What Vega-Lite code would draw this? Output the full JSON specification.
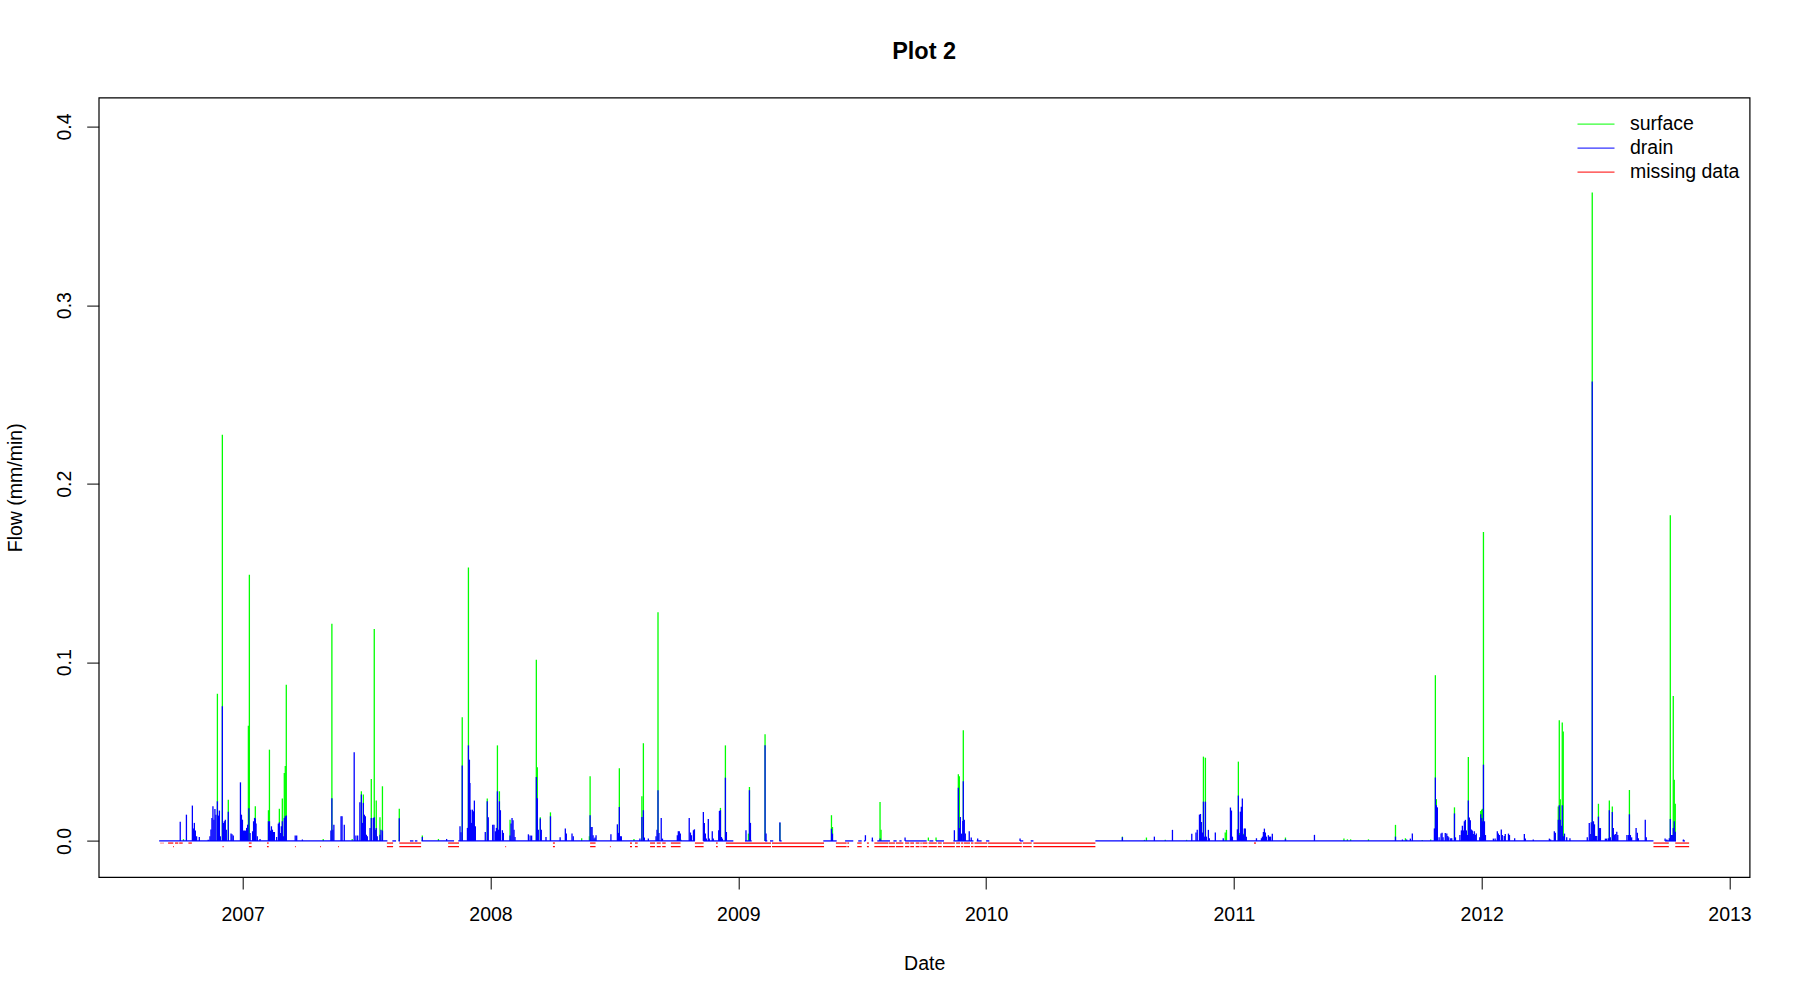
{
  "$schema": "https://vega.github.io/schema/vega-lite/v6.json",
  "width": 1650.9,
  "height": 779.4,
  "autosize": {"type": "none"},
  "padding": {"left": 98.7, "top": 97.6, "right": 50.4, "bottom": 123},
  "background": "white",
  "title": {"text": "Plot 2", "font": "Liberation Sans", "fontSize": 23.5, "fontWeight": "bold", "color": "black", "anchor": "middle", "baseline": "alphabetic", "offset": 15.6},
  "config": {
    "view": {"stroke": "black", "strokeWidth": 1.2},
    "axis": {"grid": false, "domain": false, "tickColor": "black", "tickSize": 12, "tickWidth": 1, "labelFont": "Liberation Sans", "labelFontSize": 19.5, "labelColor": "black", "titleFont": "Liberation Sans", "titleFontSize": 19.5, "titleFontWeight": "normal", "titleColor": "black", "labelFlush": false, "labelOverlap": false}
  },
  "datasets": {
    "flow": [
      {"year":2006.748,"drain":0.0108},{"year":2006.761,"surface":0.001},{"year":2006.773,"drain":0.0147},{"year":2006.797,"drain":0.0198},{"year":2006.801,"drain":0.007},{"year":2006.805,"drain":0.0101},{"year":2006.809,"drain":0.0058},{"year":2006.814,"drain":0.0026},{"year":2006.825,"drain":0.0022},
      {"year":2006.861,"drain":0.0007},{"year":2006.868,"drain":0.0026},{"year":2006.872,"drain":0.0064},{"year":2006.876,"drain":0.0129},{"year":2006.880,"drain":0.0194},{"year":2006.884,"drain":0.0119},{"year":2006.888,"drain":0.0179},{"year":2006.892,"drain":0.0147},{"year":2006.898,"surface":0.0824,"drain":0.0222},{"year":2006.902,"drain":0.0142},{"year":2006.906,"drain":0.017},{"year":2006.910,"drain":0.0026},
      {"year":2006.918,"surface":0.2274,"drain":0.0754},{"year":2006.922,"drain":0.0101},{"year":2006.926,"drain":0.011},{"year":2006.930,"drain":0.0119},{"year":2006.934,"drain":0.0063},{"year":2006.942,"surface":0.0231,"drain":0.0164},{"year":2006.953,"drain":0.0041},{"year":2006.957,"drain":0.0037},{"year":2006.962,"drain":0.003},
      {"year":2006.991,"drain":0.0328},{"year":2006.995,"drain":0.0147},{"year":2006.999,"drain":0.0119},{"year":2007.003,"drain":0.0058},{"year":2007.007,"drain":0.0058},{"year":2007.011,"drain":0.0058},{"year":2007.016,"drain":0.0073},{"year":2007.020,"drain":0.0091},{"year":2007.023,"surface":0.0645},{"year":2007.025,"drain":0.0183},{"year":2007.027,"surface":0.149},
      {"year":2007.030,"drain":0.0045},{"year":2007.040,"drain":0.0054},{"year":2007.044,"drain":0.011},{"year":2007.048,"drain":0.0129},{"year":2007.051,"surface":0.0194,"drain":0.0125},{"year":2007.054,"drain":0.0097},{"year":2007.059,"drain":0.0026},{"year":2007.070,"drain":0.0011},
      {"year":2007.104,"surface":0.0172,"drain":0.011},{"year":2007.108,"surface":0.0511,"drain":0.011},{"year":2007.112,"drain":0.0058},{"year":2007.116,"drain":0.0082},{"year":2007.120,"drain":0.0063},{"year":2007.124,"drain":0.005},{"year":2007.128,"drain":0.005},{"year":2007.137,"drain":0.0022},
      {"year":2007.144,"drain":0.0097},{"year":2007.148,"surface":0.018,"drain":0.0104},{"year":2007.152,"drain":0.0045},{"year":2007.156,"drain":0.0082},{"year":2007.160,"surface":0.0237,"drain":0.011},{"year":2007.164,"drain":0.0026},{"year":2007.168,"surface":0.038,"drain":0.0129},{"year":2007.172,"surface":0.042,"drain":0.0138},{"year":2007.176,"surface":0.0875,"drain":0.0142},
      {"year":2007.212,"drain":0.003},{"year":2007.218,"drain":0.003},{"year":2007.241,"drain":0.0008},{"year":2007.325,"surface":0.0011},
      {"year":2007.356,"drain":0.0058},{"year":2007.360,"surface":0.1216,"drain":0.0239},{"year":2007.364,"drain":0.0063},{"year":2007.368,"drain":0.0091},{"year":2007.397,"drain":0.0138},{"year":2007.401,"drain":0.0138},{"year":2007.410,"drain":0.0091},
      {"year":2007.442,"surface":0.0011},{"year":2007.450,"drain":0.0496},{"year":2007.457,"drain":0.003},{"year":2007.464,"drain":0.003},{"year":2007.473,"drain":0.0216},{"year":2007.479,"surface":0.0278,"drain":0.026},{"year":2007.483,"drain":0.0101},{"year":2007.487,"surface":0.026,"drain":0.0213},{"year":2007.491,"drain":0.0147},{"year":2007.495,"drain":0.0138},{"year":2007.499,"drain":0.0035},{"year":2007.503,"drain":0.0026},
      {"year":2007.514,"drain":0.0073},{"year":2007.519,"surface":0.0347,"drain":0.0129},{"year":2007.527,"drain":0.0129},{"year":2007.531,"surface":0.1186,"drain":0.0132},{"year":2007.535,"drain":0.0063},{"year":2007.539,"surface":0.0226,"drain":0.0073},{"year":2007.543,"drain":0.0026},{"year":2007.554,"surface":0.0132,"drain":0.0035},{"year":2007.558,"drain":0.0063},{"year":2007.564,"surface":0.0306,"drain":0.0058},
      {"year":2007.632,"surface":0.018,"drain":0.0127},{"year":2007.725,"surface":0.003,"drain":0.0022},{"year":2007.790,"surface":0.0011},{"year":2007.823,"drain":0.0011},
      {"year":2007.877,"drain":0.0082},{"year":2007.881,"drain":0.0048},{"year":2007.886,"surface":0.0692,"drain":0.0423},{"year":2007.907,"drain":0.0073},{"year":2007.911,"surface":0.1531,"drain":0.0535},{"year":2007.915,"drain":0.0455},{"year":2007.917,"drain":0.0325},{"year":2007.920,"drain":0.0175},{"year":2007.923,"drain":0.0101},{"year":2007.927,"drain":0.0175},{"year":2007.931,"surface":0.0058,"drain":0.0166},{"year":2007.935,"drain":0.0226},{"year":2007.939,"drain":0.0082},
      {"year":2007.979,"drain":0.005},{"year":2007.987,"surface":0.0237,"drain":0.0222},{"year":2007.991,"drain":0.0132},{"year":2008.009,"drain":0.0091},{"year":2008.014,"drain":0.0091},{"year":2008.020,"drain":0.0054},{"year":2008.024,"drain":0.0073},{"year":2008.028,"surface":0.0535,"drain":0.0278},{"year":2008.032,"drain":0.0063},{"year":2008.036,"surface":0.0278,"drain":0.0222},{"year":2008.040,"drain":0.0172},{"year":2008.048,"drain":0.006},{"year":2008.052,"drain":0.0045},
      {"year":2008.079,"surface":0.0119,"drain":0.003},{"year":2008.083,"drain":0.0097},{"year":2008.087,"drain":0.0129},{"year":2008.091,"drain":0.0116},{"year":2008.095,"drain":0.0063},{"year":2008.099,"drain":0.0022},{"year":2008.153,"drain":0.0037},{"year":2008.160,"drain":0.003},{"year":2008.166,"drain":0.003},
      {"year":2008.185,"surface":0.1015,"drain":0.0358},{"year":2008.189,"surface":0.0412,"drain":0.0239},{"year":2008.193,"drain":0.0063},{"year":2008.201,"surface":0.0132,"drain":0.0125},{"year":2008.205,"drain":0.0063},{"year":2008.224,"drain":0.0022},{"year":2008.242,"surface":0.016,"drain":0.0138},
      {"year":2008.281,"drain":0.002},{"year":2008.302,"drain":0.0069},{"year":2008.306,"drain":0.0041},{"year":2008.329,"drain":0.0041},{"year":2008.334,"drain":0.0026},{"year":2008.368,"surface":0.0015},{"year":2008.399,"surface":0.0026},
      {"year":2008.402,"surface":0.0362,"drain":0.0144},{"year":2008.406,"drain":0.0078},{"year":2008.410,"drain":0.0078},{"year":2008.414,"drain":0.0032},{"year":2008.418,"drain":0.0013},{"year":2008.422,"drain":0.0019},{"year":2008.426,"drain":0.0032},{"year":2008.486,"drain":0.0037},
      {"year":2008.512,"drain":0.0093},{"year":2008.516,"drain":0.0045},{"year":2008.520,"surface":0.0407,"drain":0.019},{"year":2008.524,"drain":0.0026},{"year":2008.528,"drain":0.0026},{"year":2008.579,"surface":0.0011},
      {"year":2008.603,"drain":0.0013},{"year":2008.611,"surface":0.025,"drain":0.0134},{"year":2008.617,"surface":0.0547,"drain":0.0172},{"year":2008.621,"drain":0.0019},{"year":2008.637,"drain":0.0013},
      {"year":2008.668,"drain":0.0026},{"year":2008.672,"drain":0.0063},{"year":2008.676,"surface":0.128,"drain":0.0284},{"year":2008.680,"drain":0.0045},{"year":2008.689,"drain":0.0129},{"year":2008.694,"drain":0.0013},
      {"year":2008.754,"drain":0.0032},{"year":2008.758,"drain":0.0054},{"year":2008.762,"drain":0.0054},{"year":2008.766,"drain":0.0041},{"year":2008.769,"surface":0.0007},
      {"year":2008.802,"drain":0.0129},{"year":2008.807,"drain":0.0047},{"year":2008.811,"drain":0.0032},{"year":2008.819,"drain":0.006},{"year":2008.823,"drain":0.0065},
      {"year":2008.859,"drain":0.0162},{"year":2008.863,"drain":0.0101},{"year":2008.867,"drain":0.0041},{"year":2008.871,"drain":0.0013},{"year":2008.879,"drain":0.0123},{"year":2008.883,"drain":0.0013},{"year":2008.895,"drain":0.0054},{"year":2008.899,"drain":0.0013},
      {"year":2008.921,"drain":0.006},{"year":2008.924,"drain":0.0168},{"year":2008.928,"surface":0.0185,"drain":0.0172},{"year":2008.932,"drain":0.0022},{"year":2008.936,"drain":0.0013},{"year":2008.948,"surface":0.0535,"drain":0.0354},{"year":2008.952,"drain":0.005},
      {"year":2009.031,"drain":0.006},{"year":2009.041,"surface":0.0041},{"year":2009.045,"surface":0.0302,"drain":0.0284},{"year":2009.049,"drain":0.0101},{"year":2009.108,"surface":0.0597,"drain":0.0535},{"year":2009.112,"drain":0.0041},{"year":2009.168,"surface":0.0101,"drain":0.0104},
      {"year":2009.376,"surface":0.0144,"drain":0.0069},{"year":2009.380,"surface":0.0078,"drain":0.0041},{"year":2009.513,"drain":0.0032},{"year":2009.541,"drain":0.0019},{"year":2009.572,"surface":0.0218,"drain":0.0013},{"year":2009.576,"surface":0.0063},{"year":2009.673,"drain":0.0019},{"year":2009.767,"surface":0.0019},{"year":2009.798,"surface":0.0019},
      {"year":2009.872,"drain":0.006},{"year":2009.888,"surface":0.0373,"drain":0.0298},{"year":2009.892,"surface":0.0362,"drain":0.0073},{"year":2009.896,"drain":0.0134},{"year":2009.901,"drain":0.0041},{"year":2009.906,"drain":0.0112},{"year":2009.908,"surface":0.0619,"drain":0.0334},{"year":2009.912,"drain":0.0119},{"year":2009.916,"drain":0.0041},{"year":2009.932,"drain":0.0054},{"year":2009.940,"drain":0.0019},{"year":2009.966,"drain":0.0013},{"year":2010.137,"drain":0.0013},
      {"year":2010.550,"surface":0.0024,"drain":0.0021},{"year":2010.639,"surface":0.0006},{"year":2010.647,"surface":0.0019},{"year":2010.679,"drain":0.0024},{"year":2010.723,"surface":0.0006},{"year":2010.752,"drain":0.0062},{"year":2010.809,"surface":0.0006},
      {"year":2010.830,"drain":0.004},{"year":2010.847,"drain":0.0047},{"year":2010.852,"drain":0.0062},{"year":2010.861,"drain":0.0147},{"year":2010.865,"drain":0.0151},{"year":2010.869,"drain":0.0106},{"year":2010.873,"surface":0.0045,"drain":0.0047},{"year":2010.877,"surface":0.0472,"drain":0.022},{"year":2010.881,"drain":0.0024},{"year":2010.885,"surface":0.0466,"drain":0.022},{"year":2010.889,"drain":0.0024},{"year":2010.897,"drain":0.0062},{"year":2010.901,"drain":0.0015},
      {"year":2010.925,"drain":0.0047},{"year":2010.957,"drain":0.0015},{"year":2010.965,"surface":0.0047},{"year":2010.970,"surface":0.0062},{"year":2010.986,"drain":0.0187},{"year":2010.990,"drain":0.017},{"year":2010.994,"drain":0.0024},
      {"year":2011.014,"drain":0.0065},{"year":2011.018,"surface":0.0444,"drain":0.0254},{"year":2011.022,"surface":0.0045,"drain":0.0034},{"year":2011.026,"drain":0.0164},{"year":2011.030,"drain":0.0192},{"year":2011.034,"drain":0.0237},{"year":2011.038,"surface":0.004,"drain":0.0034},{"year":2011.042,"drain":0.0069},{"year":2011.046,"drain":0.0069},{"year":2011.050,"drain":0.0024},
      {"year":2011.091,"drain":0.0015},{"year":2011.111,"drain":0.0015},{"year":2011.115,"drain":0.0024},{"year":2011.119,"drain":0.005},{"year":2011.123,"drain":0.0069},{"year":2011.127,"drain":0.0047},{"year":2011.131,"drain":0.0024},{"year":2011.139,"drain":0.0032},{"year":2011.144,"drain":0.0024},{"year":2011.148,"drain":0.0024},{"year":2011.155,"drain":0.004},
      {"year":2011.208,"surface":0.0019,"drain":0.001},{"year":2011.325,"drain":0.0034},{"year":2011.444,"surface":0.0013},{"year":2011.458,"surface":0.0009},{"year":2011.471,"surface":0.0009},{"year":2011.543,"surface":0.0009},{"year":2011.652,"surface":0.009,"drain":0.0024},
      {"year":2011.680,"drain":0.0008},{"year":2011.692,"surface":0.0015},{"year":2011.697,"drain":0.0008},{"year":2011.712,"drain":0.0013},{"year":2011.720,"drain":0.0041},{"year":2011.760,"surface":0.0005},{"year":2011.794,"surface":0.0008},
      {"year":2011.809,"drain":0.007},{"year":2011.813,"surface":0.0928,"drain":0.0355},{"year":2011.817,"surface":0.0234,"drain":0.02},{"year":2011.821,"drain":0.0188},{"year":2011.828,"drain":0.002},{"year":2011.836,"drain":0.0041},{"year":2011.840,"drain":0.0046},{"year":2011.844,"drain":0.002},{"year":2011.853,"drain":0.0044},{"year":2011.859,"drain":0.0041},{"year":2011.863,"drain":0.0028},{"year":2011.867,"drain":0.002},{"year":2011.875,"drain":0.0015},{"year":2011.879,"drain":0.0015},
      {"year":2011.890,"surface":0.0188,"drain":0.0154},{"year":2011.894,"drain":0.002},{"year":2011.912,"drain":0.0033},{"year":2011.918,"drain":0.0059},{"year":2011.922,"drain":0.0085},{"year":2011.926,"drain":0.0059},{"year":2011.930,"drain":0.011},{"year":2011.934,"drain":0.0118},{"year":2011.938,"drain":0.0059},{"year":2011.942,"drain":0.0033},{"year":2011.946,"surface":0.047,"drain":0.0226},{"year":2011.950,"drain":0.0131},{"year":2011.954,"drain":0.0116},{"year":2011.958,"drain":0.0064},{"year":2011.962,"drain":0.0059},{"year":2011.966,"drain":0.0039},{"year":2011.970,"drain":0.0054},{"year":2011.974,"drain":0.0033},{"year":2011.978,"drain":0.0041},
      {"year":2011.992,"drain":0.002},{"year":2011.996,"surface":0.0167,"drain":0.0149},{"year":2012.000,"surface":0.0175,"drain":0.0128},{"year":2012.003,"surface":0.018,"drain":0.011},{"year":2012.007,"surface":0.173,"drain":0.0427},{"year":2012.011,"drain":0.011},{"year":2012.015,"drain":0.0033},
      {"year":2012.047,"drain":0.0013},{"year":2012.054,"drain":0.0013},{"year":2012.063,"drain":0.0054},{"year":2012.067,"drain":0.0041},{"year":2012.071,"drain":0.0033},{"year":2012.079,"drain":0.0064},{"year":2012.083,"drain":0.0033},{"year":2012.091,"drain":0.0028},{"year":2012.095,"drain":0.0039},{"year":2012.108,"drain":0.0041},{"year":2012.112,"drain":0.0033},{"year":2012.133,"drain":0.0015},{"year":2012.172,"drain":0.0039},{"year":2012.176,"drain":0.0013},{"year":2012.208,"drain":0.0008},
      {"year":2012.273,"drain":0.0013},{"year":2012.278,"drain":0.0008},{"year":2012.293,"drain":0.0054},{"year":2012.297,"drain":0.0046},{"year":2012.309,"surface":0.0193,"drain":0.0118},{"year":2012.313,"surface":0.0676,"drain":0.02},{"year":2012.317,"surface":0.0234,"drain":0.0118},{"year":2012.323,"drain":0.0085},{"year":2012.325,"surface":0.0663,"drain":0.02},{"year":2012.329,"surface":0.0612,"drain":0.0026},{"year":2012.334,"drain":0.0041},{"year":2012.343,"drain":0.002},{"year":2012.356,"drain":0.0015},
      {"year":2012.426,"drain":0.002},{"year":2012.434,"drain":0.01},{"year":2012.438,"drain":0.0039},{"year":2012.442,"drain":0.0105},{"year":2012.446,"surface":0.363,"drain":0.2572},{"year":2012.451,"drain":0.011},{"year":2012.455,"drain":0.0093},{"year":2012.459,"drain":0.0028},{"year":2012.464,"drain":0.0028},{"year":2012.471,"surface":0.0208,"drain":0.0136},{"year":2012.475,"drain":0.0072},{"year":2012.479,"drain":0.0072},
      {"year":2012.499,"drain":0.0013},{"year":2012.504,"drain":0.0013},{"year":2012.511,"drain":0.0015},{"year":2012.515,"surface":0.0226,"drain":0.0172},{"year":2012.519,"drain":0.002},{"year":2012.527,"surface":0.0193,"drain":0.0162},{"year":2012.531,"drain":0.0072},{"year":2012.535,"drain":0.0033},{"year":2012.539,"drain":0.0039},{"year":2012.545,"drain":0.0051},{"year":2012.549,"drain":0.0033},
      {"year":2012.586,"drain":0.0033},{"year":2012.592,"drain":0.0033},{"year":2012.596,"surface":0.0285,"drain":0.0149},{"year":2012.600,"drain":0.0033},{"year":2012.605,"drain":0.002},{"year":2012.623,"drain":0.0072},{"year":2012.628,"drain":0.0046},{"year":2012.632,"drain":0.0015},{"year":2012.660,"drain":0.0118},{"year":2012.664,"drain":0.002},
      {"year":2012.740,"drain":0.0013},{"year":2012.747,"drain":0.0008},{"year":2012.757,"drain":0.0015},{"year":2012.761,"surface":0.1824,"drain":0.0123},{"year":2012.765,"drain":0.0033},{"year":2012.769,"drain":0.0033},{"year":2012.773,"surface":0.0812,"drain":0.0072},{"year":2012.777,"surface":0.0342,"drain":0.011},{"year":2012.781,"surface":0.0208,"drain":0.0051},{"year":2012.814,"drain":0.0008}
    ],
    "base": [
      {"from":2006.663,"to":2007.584},{"from":2007.604,"to":2007.619},{"from":2007.629,"to":2007.635},{"from":2007.675,"to":2007.689},{"from":2007.695,"to":2007.705},{"from":2007.722,"to":2007.853},{"from":2007.870,"to":2008.825},{"from":2008.859,"to":2008.980},{"from":2009.027,"to":2009.054},{"from":2009.108,"to":2009.117},{"from":2009.128,"to":2009.141},{"from":2009.166,"to":2009.175},{"from":2009.343,"to":2009.397},{"from":2009.431,"to":2009.464},{"from":2009.484,"to":2009.498},{"from":2009.507,"to":2009.513},{"from":2009.538,"to":2009.545},{"from":2009.561,"to":2009.612},{"from":2009.626,"to":2009.639},{"from":2009.650,"to":2009.659},{"from":2009.673,"to":2009.760},{"from":2009.771,"to":2009.787},{"from":2009.798,"to":2009.830},{"from":2009.868,"to":2009.949},{"from":2009.962,"to":2009.982},{"from":2010.000,"to":2010.013},{"from":2010.137,"to":2010.150},{"from":2010.180,"to":2010.191},{"from":2010.441,"to":2012.693},{"from":2012.740,"to":2012.784},{"from":2012.811,"to":2012.820}
    ],
    "missing": [
      {"from":2006.669,"to":2006.672,"level":-0.0012},{"from":2006.677,"to":2006.680,"level":-0.0012},{"from":2006.699,"to":2006.720,"level":-0.0012},{"from":2006.727,"to":2006.740,"level":-0.0012},{"from":2006.744,"to":2006.758,"level":-0.0012},{"from":2006.781,"to":2006.795,"level":-0.0012},{"from":2011.081,"to":2011.089,"level":-0.0012},
      {"from":2006.719,"to":2006.722,"level":-0.0032},{"from":2006.919,"to":2006.923,"level":-0.0032},{"from":2007.211,"to":2007.214,"level":-0.0032},{"from":2007.312,"to":2007.315,"level":-0.0032},{"from":2007.385,"to":2007.388,"level":-0.0032},{"from":2008.060,"to":2008.063,"level":-0.0032},{"from":2008.482,"to":2008.485,"level":-0.0032},
      {"from":2007.025,"to":2007.036,"level":-0.0012},{"from":2007.025,"to":2007.036,"level":-0.0032},
      {"from":2007.098,"to":2007.105,"level":-0.0012},{"from":2007.098,"to":2007.105,"level":-0.0032},
      {"from":2007.582,"to":2007.607,"level":-0.0012},{"from":2007.582,"to":2007.607,"level":-0.0032},
      {"from":2007.632,"to":2007.720,"level":-0.0012},{"from":2007.632,"to":2007.720,"level":-0.0032},
      {"from":2007.829,"to":2007.873,"level":-0.0012},{"from":2007.829,"to":2007.873,"level":-0.0032},
      {"from":2008.252,"to":2008.260,"level":-0.0012},{"from":2008.252,"to":2008.260,"level":-0.0032},
      {"from":2008.402,"to":2008.424,"level":-0.0012},{"from":2008.402,"to":2008.424,"level":-0.0032},
      {"from":2008.563,"to":2008.571,"level":-0.0012},{"from":2008.563,"to":2008.571,"level":-0.0032},
      {"from":2008.583,"to":2008.594,"level":-0.0012},{"from":2008.583,"to":2008.594,"level":-0.0032},
      {"from":2008.644,"to":2008.664,"level":-0.0012},{"from":2008.644,"to":2008.664,"level":-0.0032},
      {"from":2008.671,"to":2008.687,"level":-0.0012},{"from":2008.671,"to":2008.687,"level":-0.0032},
      {"from":2008.693,"to":2008.707,"level":-0.0012},{"from":2008.693,"to":2008.707,"level":-0.0032},
      {"from":2008.728,"to":2008.767,"level":-0.0012},{"from":2008.728,"to":2008.767,"level":-0.0032},
      {"from":2008.825,"to":2008.860,"level":-0.0012},{"from":2008.825,"to":2008.860,"level":-0.0032},
      {"from":2008.910,"to":2008.917,"level":-0.0012},{"from":2008.910,"to":2008.917,"level":-0.0032},
      {"from":2008.950,"to":2009.132,"level":-0.0012},{"from":2008.950,"to":2009.132,"level":-0.0032},
      {"from":2009.136,"to":2009.346,"level":-0.0012},{"from":2009.136,"to":2009.346,"level":-0.0032},
      {"from":2009.394,"to":2009.437,"level":-0.0012},{"from":2009.394,"to":2009.437,"level":-0.0032},
      {"from":2009.440,"to":2009.447,"level":-0.0012},{"from":2009.440,"to":2009.447,"level":-0.0032},
      {"from":2009.480,"to":2009.498,"level":-0.0012},{"from":2009.480,"to":2009.498,"level":-0.0032},
      {"from":2009.519,"to":2009.527,"level":-0.0012},{"from":2009.519,"to":2009.527,"level":-0.0032},
      {"from":2009.549,"to":2009.606,"level":-0.0012},{"from":2009.549,"to":2009.606,"level":-0.0032},
      {"from":2009.608,"to":2009.632,"level":-0.0012},{"from":2009.608,"to":2009.632,"level":-0.0032},
      {"from":2009.636,"to":2009.666,"level":-0.0012},{"from":2009.636,"to":2009.666,"level":-0.0032},
      {"from":2009.673,"to":2009.690,"level":-0.0012},{"from":2009.673,"to":2009.690,"level":-0.0032},
      {"from":2009.694,"to":2009.709,"level":-0.0012},{"from":2009.694,"to":2009.709,"level":-0.0032},
      {"from":2009.716,"to":2009.731,"level":-0.0012},{"from":2009.716,"to":2009.731,"level":-0.0032},
      {"from":2009.735,"to":2009.740,"level":-0.0012},{"from":2009.735,"to":2009.740,"level":-0.0032},
      {"from":2009.743,"to":2009.763,"level":-0.0012},{"from":2009.743,"to":2009.763,"level":-0.0032},
      {"from":2009.768,"to":2009.801,"level":-0.0012},{"from":2009.768,"to":2009.801,"level":-0.0032},
      {"from":2009.805,"to":2009.821,"level":-0.0012},{"from":2009.805,"to":2009.821,"level":-0.0032},
      {"from":2009.826,"to":2009.874,"level":-0.0012},{"from":2009.826,"to":2009.874,"level":-0.0032},
      {"from":2009.879,"to":2009.895,"level":-0.0012},{"from":2009.879,"to":2009.895,"level":-0.0032},
      {"from":2009.899,"to":2009.908,"level":-0.0012},{"from":2009.899,"to":2009.908,"level":-0.0032},
      {"from":2009.911,"to":2009.935,"level":-0.0012},{"from":2009.911,"to":2009.935,"level":-0.0032},
      {"from":2009.939,"to":2009.949,"level":-0.0012},{"from":2009.939,"to":2009.949,"level":-0.0032},
      {"from":2009.953,"to":2010.005,"level":-0.0012},{"from":2009.953,"to":2010.005,"level":-0.0032},
      {"from":2010.008,"to":2010.144,"level":-0.0012},{"from":2010.008,"to":2010.144,"level":-0.0032},
      {"from":2010.148,"to":2010.184,"level":-0.0012},{"from":2010.148,"to":2010.184,"level":-0.0032},
      {"from":2010.191,"to":2010.441,"level":-0.0012},{"from":2010.191,"to":2010.441,"level":-0.0032},
      {"from":2012.693,"to":2012.755,"level":-0.0012},{"from":2012.693,"to":2012.755,"level":-0.0032},
      {"from":2012.781,"to":2012.837,"level":-0.0012},{"from":2012.781,"to":2012.837,"level":-0.0032}
    ]
  },
  "encoding": {
    "x": {"type": "quantitative", "scale": {"domain": [2006.419, 2013.081], "nice": false, "zero": false},
          "axis": {"title": "Date", "values": [2007, 2008, 2009, 2010, 2011, 2012, 2013], "format": "d", "labelBaseline": "alphabetic", "labelPadding": 31, "titleBaseline": "alphabetic", "titleY": 92}}
  },
  "layer": [
    {
      "data": {"name": "flow"},
      "mark": {"type": "rule", "strokeWidth": 1.3},
      "encoding": {
        "x": {"field": "year", "type": "quantitative"},
        "y": {"field": "surface", "type": "quantitative", "scale": {"domain": [-0.0202, 0.4162], "nice": false, "zero": false},
              "axis": {"title": "Flow (mm/min)", "values": [0, 0.1, 0.2, 0.3, 0.4], "format": ".1f", "labelAngle": 270, "labelAlign": "center", "labelBaseline": "alphabetic", "labelPadding": 16.7, "titleAngle": 270, "titleAlign": "center", "titleBaseline": "bottom", "titleX": -73, "titleY": 389.7}},
        "y2": {"datum": 0},
        "color": {"datum": "surface", "type": "nominal",
                  "scale": {"domain": ["surface", "drain", "missing data"], "range": ["#00ff00", "#0000ff", "#ff0000"]},
                  "legend": {"title": null, "orient": "none", "legendX": 1478.3, "legendY": 16.5, "symbolType": "stroke", "symbolSize": 1369, "symbolStrokeWidth": 1, "labelFont": "Liberation Sans", "labelFontSize": 19.5, "labelColor": "black", "labelOffset": 15, "rowPadding": 4, "clipHeight": 20, "padding": 0}}
      }
    },
    {
      "data": {"name": "flow"},
      "mark": {"type": "rule", "strokeWidth": 1.3},
      "encoding": {
        "x": {"field": "year", "type": "quantitative"},
        "y": {"field": "drain", "type": "quantitative"},
        "y2": {"datum": 0},
        "color": {"datum": "drain", "type": "nominal"}
      }
    },
    {
      "data": {"name": "base"},
      "mark": {"type": "rule", "strokeWidth": 1.3},
      "encoding": {
        "x": {"field": "from", "type": "quantitative"},
        "x2": {"field": "to"},
        "y": {"datum": 0, "type": "quantitative"},
        "color": {"datum": "drain", "type": "nominal"}
      }
    },
    {
      "data": {"name": "missing"},
      "mark": {"type": "rule", "strokeWidth": 1.2},
      "encoding": {
        "x": {"field": "from", "type": "quantitative"},
        "x2": {"field": "to"},
        "y": {"field": "level", "type": "quantitative"},
        "color": {"datum": "missing data", "type": "nominal"}
      }
    }
  ]
}
